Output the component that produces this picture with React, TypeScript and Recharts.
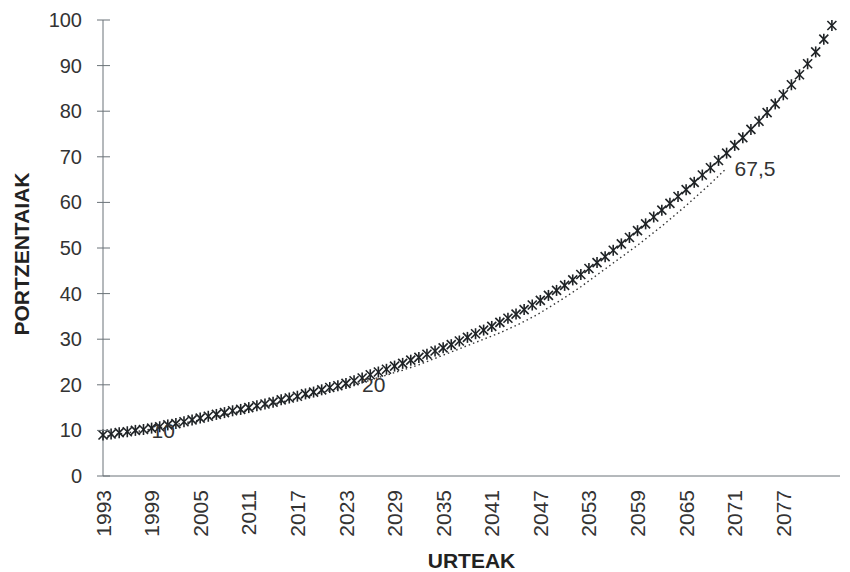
import React from 'react';
import { LineChart, Line, XAxis, YAxis, Label, LabelList } from 'recharts';

// years shown on the chart, one point a year
const years = [
    1993, 1994, 1995, 1996, 1997, 1998, 1999, 2000, 2001, 2002,
    2003, 2004, 2005, 2006, 2007, 2008, 2009, 2010, 2011, 2012,
    2013, 2014, 2015, 2016, 2017, 2018, 2019, 2020, 2021, 2022,
    2023, 2024, 2025, 2026, 2027, 2028, 2029, 2030, 2031, 2032,
    2033, 2034, 2035, 2036, 2037, 2038, 2039, 2040, 2041, 2042,
    2043, 2044, 2045, 2046, 2047, 2048, 2049, 2050, 2051, 2052,
    2053, 2054, 2055, 2056, 2057, 2058, 2059, 2060, 2061, 2062,
    2063, 2064, 2065, 2066, 2067, 2068, 2069, 2070, 2071, 2072,
    2073, 2074, 2075, 2076, 2077, 2078, 2079, 2080, 2081, 2082,
    2083,
];

// asterisk markers
const markerValues = [
    9.0, 9.2, 9.5, 9.7, 10.0, 10.2, 10.5, 10.8, 11.2, 11.5,
    11.9, 12.3, 12.7, 13.1, 13.5, 13.9, 14.3, 14.6, 15.0, 15.4,
    15.8, 16.2, 16.7, 17.1, 17.5, 18.0, 18.4, 18.9, 19.4, 19.8,
    20.3, 20.9, 21.5, 22.2, 22.8, 23.4, 24.1, 24.7, 25.4, 26.0,
    26.7, 27.4, 28.1, 28.8, 29.6, 30.4, 31.2, 32.0, 32.8, 33.7,
    34.6, 35.5, 36.5, 37.5, 38.5, 39.6, 40.7, 41.8, 43.0, 44.2,
    45.5, 46.8, 48.1, 49.5, 50.9, 52.3, 53.8, 55.3, 56.8, 58.3,
    59.8, 61.3, 62.8, 64.4, 66.0, 67.6, 69.2, 70.8, 72.5, 74.2,
    76.0, 77.8, 79.7, 81.6, 83.6, 85.8, 88.0, 90.4, 93.0, 95.8,
    98.8,
];

// dotted line, 1993 - 2070
const dottedValues = [
    8.6, 8.9, 9.2, 9.5, 9.7, 10.0, 10.3, 10.6, 10.9, 11.3,
    11.6, 12.0, 12.3, 12.7, 13.1, 13.4, 13.8, 14.2, 14.6, 15.0,
    15.4, 15.8, 16.2, 16.6, 17.0, 17.4, 17.8, 18.3, 18.7, 19.1,
    19.6, 20.0, 20.5, 21.0, 21.6, 22.1, 22.7, 23.2, 23.8, 24.4,
    25.1, 25.8, 26.5, 27.2, 27.9, 28.6, 29.3, 30.0, 30.7, 31.4,
    32.2, 33.0, 33.9, 34.8, 35.8, 36.9, 38.0, 39.1, 40.3, 41.5,
    42.8, 44.1, 45.4, 46.7, 48.0, 49.3, 50.6, 52.0, 53.4, 54.8,
    56.3, 57.8, 59.3, 60.9, 62.5, 64.1, 65.8, 67.5,
];

const labelledYears = [1998, 2024, 2070];

const xTicks = [1993, 1999, 2005, 2011, 2017, 2023, 2029, 2035, 2041, 2047, 2053, 2059, 2065, 2071, 2077];
const yTicks = [0, 10, 20, 30, 40, 50, 60, 70, 80, 90, 100];

const data = years.map((year, i) => ({
    year,
    a: markerValues[i],
    b: i < dottedValues.length ? dottedValues[i] : undefined,
    lbl: labelledYears.includes(year) ? dottedValues[i] : undefined,
}));

const FONT = '"Liberation Sans", Arial, sans-serif';
const AXIS = '#6b7378';

const AsteriskDot = (props: any) => {
    const { cx, cy, index } = props;
    if (cx == null || cy == null) return <g key={index} />;
    const r = 4.5;
    return (
        <g key={index} stroke="#1f2326" strokeWidth={1.6}>
            <line x1={cx - r} y1={cy - r} x2={cx + r} y2={cy + r} />
            <line x1={cx - r} y1={cy + r} x2={cx + r} y2={cy - r} />
            <line x1={cx} y1={cy - r - 1} x2={cx} y2={cy + r + 1} />
        </g>
    );
};

const YTick = (props: any) => {
    const { x, y, payload } = props;
    return (
        <g>
            <line x1={x - 6} y1={y} x2={x + 7} y2={y} stroke={AXIS} strokeWidth={1} />
            <text x={x - 21} y={y} textAnchor="end" dominantBaseline="central"
                  fontFamily={FONT} fontSize={20} fill="#333">{payload.value}</text>
        </g>
    );
};

const XTick = (props: any) => {
    const { x, y, payload } = props;
    const ty = y + 14;
    return (
        <text x={x} y={ty} dy="0.36em" textAnchor="end" transform={`rotate(-90 ${x} ${ty})`}
              fontFamily={FONT} fontSize={21} fill="#333">{payload.value}</text>
    );
};

const ValueLabel = (props: any) => {
    const { x, y, value } = props;
    if (value == null) return null;
    return (
        <text x={x + 8} y={y} dominantBaseline="central" fontFamily={FONT} fontSize={21} fill="#333">
            {String(value).replace('.', ',')}
        </text>
    );
};

const YTitle = (props: any) => {
    const { viewBox } = props;
    const cx = viewBox.x + 21;
    const cy = viewBox.y + viewBox.height / 2 + 6;
    return (
        <text x={cx} y={cy} transform={`rotate(-90 ${cx} ${cy})`} textAnchor="middle" dominantBaseline="central"
              fontFamily={FONT} fontSize={21} fontWeight="bold" fill="#222">PORTZENTAIAK</text>
    );
};

const XTitle = (props: any) => {
    const { viewBox } = props;
    return (
        <text x={viewBox.x + viewBox.width / 2} y={viewBox.y + viewBox.height - 4} textAnchor="middle"
              fontFamily={FONT} fontSize={21} fontWeight="bold" fill="#222">URTEAK</text>
    );
};

export default function App() {
    return (
        <div style={{ position: 'absolute', left: 0, top: 0, width: 850, height: 572, background: '#fff' }}>
            <LineChart width={850} height={572} data={data} margin={{ top: 20, right: 10, left: 0, bottom: 0 }}>
                <XAxis dataKey="year" type="number" domain={[1993, 2084]} ticks={xTicks} interval={0}
                       height={96} tickLine={false} tickSize={0} tickMargin={0} tick={<XTick />}
                       stroke={AXIS}>
                    <Label content={<XTitle />} />
                </XAxis>
                <YAxis domain={[0, 100]} ticks={yTicks} interval={0} width={103}
                       tickLine={false} tickSize={0} tickMargin={0} tick={<YTick />} stroke={AXIS}>
                    <Label content={<YTitle />} />
                </YAxis>
                <Line dataKey="b" isAnimationActive={false} stroke="#333" strokeWidth={1.4}
                      strokeDasharray="1.5 3" dot={false} activeDot={false} connectNulls={false}>
                    <LabelList dataKey="lbl" content={<ValueLabel />} />
                </Line>
                <Line dataKey="a" isAnimationActive={false} stroke="none" dot={<AsteriskDot />} activeDot={false} />
            </LineChart>
        </div>
    );
}
